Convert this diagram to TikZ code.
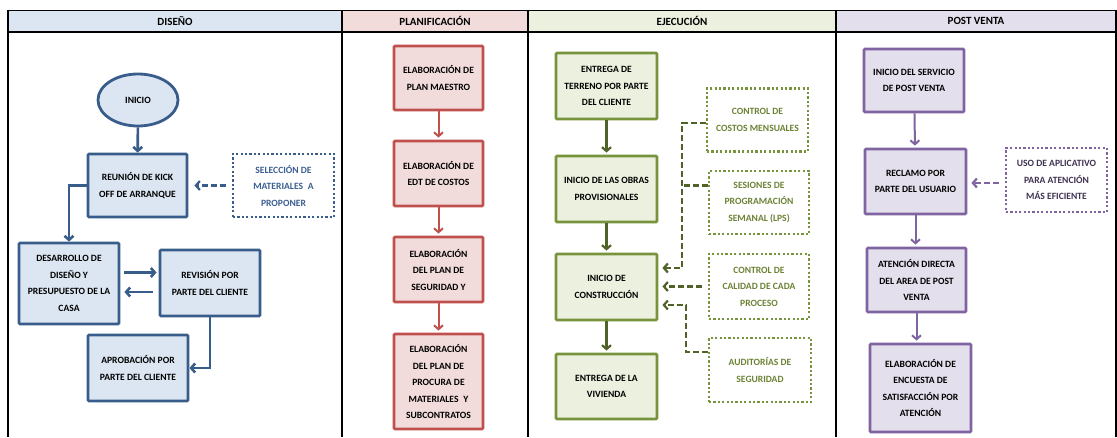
\documentclass[tikz,border=0pt]{standalone}
\usepackage{fontspec}
\setmainfont{Carlito}
\usetikzlibrary{arrows.meta,shapes.geometric}
\definecolor{bB}{HTML}{385D8A}\definecolor{bF}{HTML}{DCE6F2}\definecolor{bT}{HTML}{3B5E91}
\definecolor{rB}{HTML}{C0504D}\definecolor{rF}{HTML}{F2DCDB}
\definecolor{gB}{HTML}{77933C}\definecolor{gF}{HTML}{EBF1DE}\definecolor{gD}{HTML}{4F6228}\definecolor{gT}{HTML}{6B8234}
\definecolor{pB}{HTML}{8064A2}\definecolor{pF}{HTML}{E4DFEC}\definecolor{pT}{HTML}{3F3151}
\tikzset{
  txt/.style={align=center,font=\fontsize{9.6}{16.5}\selectfont\bfseries,inner sep=0pt},
  mbox/.style={txt,draw,line width=2.8pt,rounded corners=1pt,text=black},
  dbox/.style={txt,draw,line width=2.3pt,dash pattern=on 2.2pt off 2.2pt},
  hdr/.style={draw=black,line width=0.8pt,minimum height=22pt,inner sep=0pt,font=\fontsize{11}{13}\selectfont\bfseries},
  tip/.style={-{Straight Barb[length=4pt,width=9pt]}},
  barr/.style={tip,draw=bB,line width=2.6pt},
  rarr/.style={tip,draw=rB,line width=2pt,shorten >=2pt},
  garr/.style={tip,draw=gD,line width=2.2pt,shorten >=2pt},
  parr/.style={tip,draw=pB,line width=2pt,shorten >=2pt},
  dsh/.style={line width=2.2pt,dash pattern=on 6pt off 3pt},
}
\begin{document}
\begin{tikzpicture}[x=1pt,y=-1pt]
\useasboundingbox (0,0) rectangle (1117,437);
% headers
\node[hdr,fill=bF,minimum width=334pt] (h1) at (175,21) {DISEÑO};
\node[hdr,fill=rF,minimum width=186pt] (h2) at (435,21) {PLANIFICACIÓN};
\node[hdr,fill=gF,minimum width=308pt] (h3) at (682,21) {EJECUCIÓN};
\node[hdr,fill=pF,minimum width=280pt] (h4) at (976,21) {POST VENTA};
\draw[line width=1.6pt] (8,32) -- (1116,32);
\foreach \x in {8,342,528,836,1116} \draw[line width=1.2pt] (\x,10) -- (\x,437);
% DISEÑO
\node[ellipse,draw=bB,fill=bF,line width=2.8pt,minimum width=80pt,minimum height=52pt,txt,text=black] (ini) at (138,100) {INICIO};
\node[mbox,draw=bB,fill=bF,minimum width=99pt,minimum height=63pt] (reu) at (137.5,185.5) {REUNIÓN DE KICK\\OFF DE ARRANQUE};
\node[dbox,draw=bB,text=bT,minimum width=101pt,minimum height=63pt] (sel) at (283.5,185.5) {SELECCIÓN DE\\MATERIALES\enspace A\\PROPONER};
\node[mbox,draw=bB,fill=bF,minimum width=100pt,minimum height=81pt] (des) at (69,283.5) {DESARROLLO DE\\DISEÑO Y\\PRESUPUESTO DE LA\\CASA};
\node[mbox,draw=bB,fill=bF,minimum width=100pt,minimum height=66pt] (rev) at (210,283) {REVISIÓN POR\\PARTE DEL CLIENTE};
\node[mbox,draw=bB,fill=bF,minimum width=100pt,minimum height=66pt] (apr) at (138,368) {APROBACIÓN POR\\PARTE DEL CLIENTE};
\draw[barr] (ini) -- (reu);
\draw[tip,draw=bB,dsh,shorten <=6pt,shorten >=6pt] (sel) -- (reu);
\draw[barr] (reu.west) -| (des.north);
\draw[barr,shorten <=4pt,shorten >=2pt] ([yshift=11pt]des.east) -- ([yshift=11pt]des.east -| rev.west);
\draw[barr,shorten <=6pt,shorten >=4pt] ([yshift=-9pt]rev.west) -- ([yshift=-9pt]rev.west -| des.east);
\draw[barr] (rev.south) |- (apr.east);
% PLANIFICACION
\node[mbox,draw=rB,fill=rF,minimum width=89pt,minimum height=64pt] (p1) at (438.5,78) {ELABORACIÓN DE\\PLAN MAESTRO};
\node[mbox,draw=rB,fill=rF,minimum width=89pt,minimum height=65pt] (p2) at (438.5,173.5) {ELABORACIÓN DE\\EDT DE COSTOS};
\node[mbox,draw=rB,fill=rF,minimum width=89pt,minimum height=65pt] (p3) at (438.5,269.5) {ELABORACIÓN\\DEL PLAN DE\\SEGURIDAD Y};
\node[mbox,draw=rB,fill=rF,minimum width=89pt,minimum height=95pt] (p4) at (438.5,381.5) {ELABORACIÓN\\DEL PLAN DE\\PROCURA DE\\MATERIALES\enspace Y\\SUBCONTRATOS};
\draw[rarr] (p1) -- (p2);
\draw[rarr] (p2) -- (p3);
\draw[rarr] (p3) -- (p4);
% EJECUCION
\node[mbox,draw=gB,fill=gF,minimum width=101pt,minimum height=66pt] (e1) at (606.5,86) {ENTREGA DE\\TERRENO POR PARTE\\DEL CLIENTE};
\node[mbox,draw=gB,fill=gF,minimum width=101pt,minimum height=66pt] (e2) at (606.5,189) {INICIO DE LAS OBRAS\\PROVISIONALES};
\node[mbox,draw=gB,fill=gF,minimum width=101pt,minimum height=66pt] (e3) at (606.5,287) {INICIO DE\\CONSTRUCCIÓN};
\node[mbox,draw=gB,fill=gF,minimum width=101pt,minimum height=65pt] (e4) at (606.5,386.5) {ENTREGA DE LA\\VIVIENDA};
\draw[garr] (e1) -- (e2);
\draw[garr] (e2) -- (e3);
\draw[garr] (e3) -- (e4);
\node[dbox,draw=gB,text=gT,minimum width=101pt,minimum height=63pt] (cos) at (757.5,120) {CONTROL DE\\COSTOS MENSUALES};
\node[dbox,draw=gB,text=gT,minimum width=100pt,minimum height=63pt] (ses) at (759,202.5) {SESIONES DE\\PROGRAMACIÓN\\SEMANAL (LPS)};
\node[dbox,draw=gB,text=gT,minimum width=100pt,minimum height=65pt] (cal) at (759,286.5) {CONTROL DE\\CALIDAD DE CADA\\PROCESO};
\node[dbox,draw=gB,text=gT,minimum width=102pt,minimum height=64pt] (aud) at (760,370) {AUDITORÍAS DE\\SEGURIDAD};
\coordinate (jx) at (682,0);
\coordinate (jy) at (686,0);
\coordinate (t1) at ([yshift=19pt]e3.east);
\coordinate (t2) at ([yshift=-18pt]e3.east);
\draw[tip,draw=gD,dsh,shorten >=4pt] ([yshift=-3pt]cos.west) -| (t1 -| jx) -- (t1);
\draw[draw=gD,dsh] ([yshift=17pt]ses.west) -- ([yshift=17pt]ses.west -| jx);
\draw[tip,draw=gD,dsh,shorten <=6pt,shorten >=4pt] (cal.west) -- (cal.west -| e3.east);
\draw[tip,draw=gD,dsh,shorten >=4pt] ([yshift=18pt]aud.west) -| (t2 -| jy) -- (t2);
% POST VENTA
\node[mbox,draw=pB,fill=pF,minimum width=100pt,minimum height=63pt] (v1) at (914,80.5) {INICIO DEL SERVICIO\\DE POST VENTA};
\node[mbox,draw=pB,fill=pF,minimum width=101pt,minimum height=65pt] (v2) at (915.5,181.5) {RECLAMO POR\\PARTE DEL USUARIO};
\node[mbox,draw=pB,fill=pF,minimum width=99pt,minimum height=64pt] (v3) at (916.5,280) {ATENCIÓN DIRECTA\\DEL AREA DE POST\\VENTA};
\node[mbox,draw=pB,fill=pF,minimum width=101pt,minimum height=88pt] (v4) at (920.5,388) {ELABORACIÓN DE\\ENCUESTA DE\\SATISFACCIÓN POR\\ATENCIÓN};
\node[dbox,draw=pB,text=pT,minimum width=101pt,minimum height=64pt] (uso) at (1056.5,180) {USO DE APLICATIVO\\PARA ATENCIÓN\\MÁS EFICIENTE};
\draw[parr] (v1) -- (v2);
\draw[parr] (v2.south) -- (v2.south |- v3.north);
\draw[parr] (v3.south) -- (v3.south |- v4.north);
\draw[tip,draw=pB,dsh,shorten <=6pt,shorten >=4pt] ([yshift=-3pt]uso.west) -- ([yshift=-3pt]uso.west -| v2.east);
\end{tikzpicture}
\end{document}
